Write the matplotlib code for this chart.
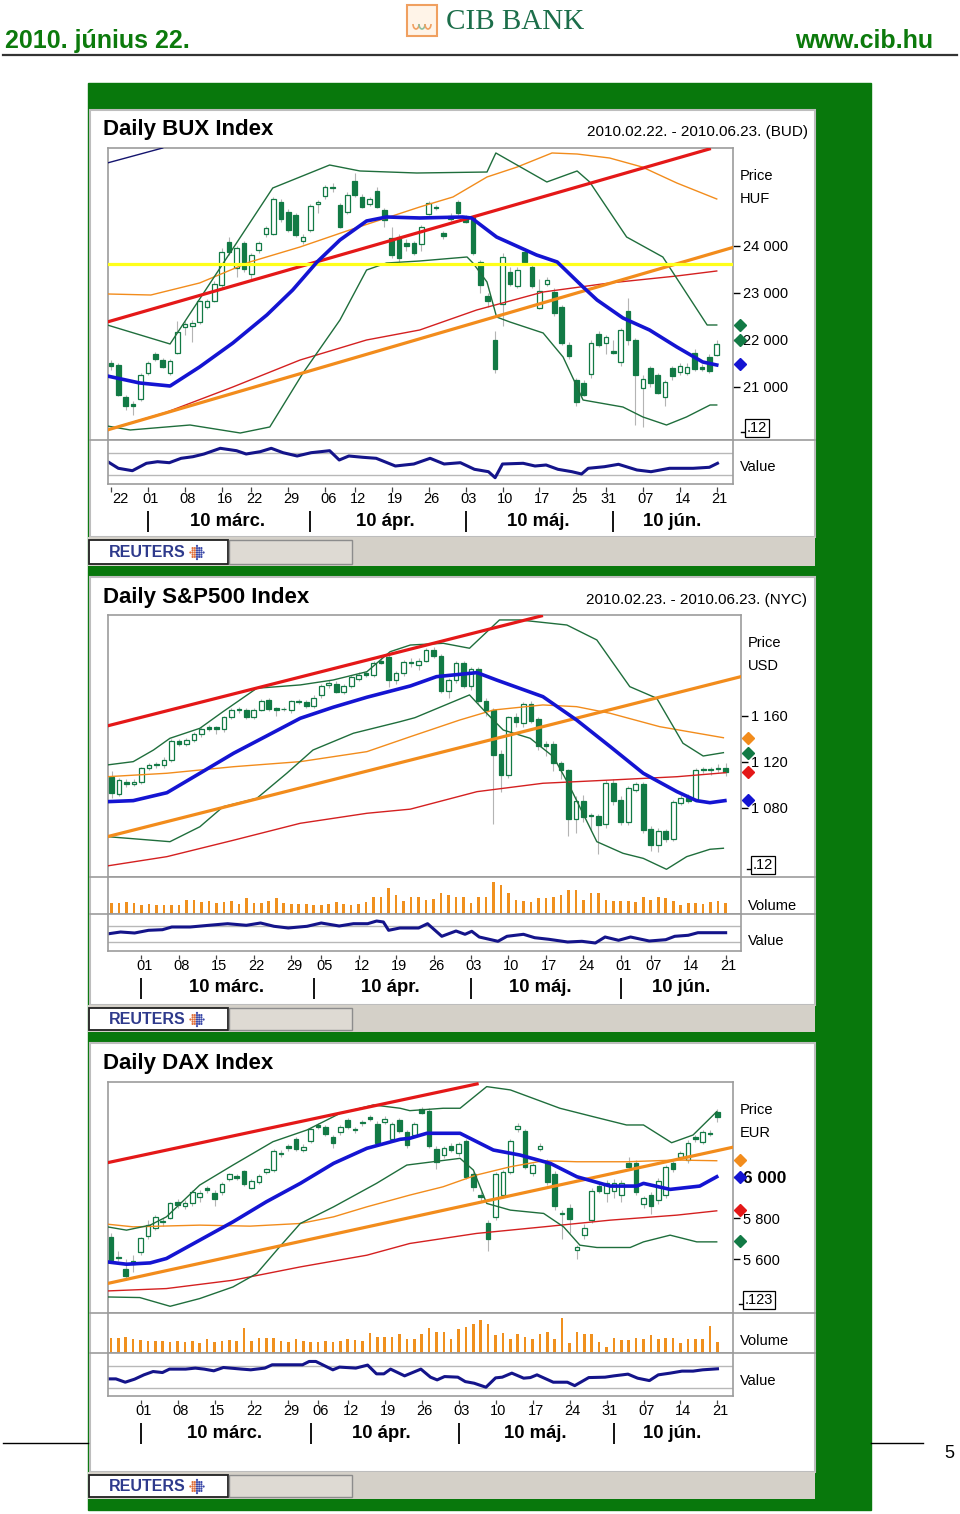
import matplotlib
matplotlib.use("Agg")
import matplotlib.pyplot as plt
from matplotlib.patches import Rectangle, Arc
from matplotlib.transforms import blended_transform_factory as blend
import numpy as np

plt.rcParams['font.family'] = ['Liberation Sans', 'DejaVu Sans']

# ---------------- data ----------------
# BUX (Budapest), 2010.02.22 - 2010.06.21
bux_open = [21520, 21460, 20790, 20640, 20750, 21290, 21700, 21570, 21290, 21720,
            22270, 22300, 22390, 22710, 22840, 23160, 24090, 23530, 24060, 23400,
            23920, 24250, 24260, 24940, 24730, 24660, 24110, 24340, 24890, 25060,
            25260, 24870, 24720, 25390, 25050, 24890, 25180, 24770, 24180, 24200,
            24070, 24060, 24040, 24680, 24840, 24270, 24570, 24930, 24610, 24610,
            23650, 22940, 22000, 22760, 23450, 23140, 23880, 23550, 22690, 23190,
            23030, 22700, 21890, 21150, 21090, 21270, 22130, 21930, 21770, 21530,
            22620, 22000, 20970, 21400, 21260, 20780, 21400, 21310, 21290, 21730,
            21430, 21630, 21680]
bux_close = [21450, 20830, 20600, 20600, 21250, 21520, 21600, 21430, 21550, 22160,
             22350, 22370, 22820, 22820, 23190, 23870, 23870, 23950, 23500, 23810,
             24060, 24380, 24990, 24570, 24340, 24240, 24200, 24850, 24940, 25260,
             25230, 24410, 25090, 25090, 24840, 24990, 24840, 24550, 23810, 23740,
             24000, 23860, 24410, 24910, 24800, 24220, 24640, 24700, 24510, 23860,
             23170, 22830, 21380, 23770, 23190, 23490, 23650, 23140, 23050, 23280,
             22570, 21930, 21660, 20670, 20830, 21940, 21890, 22070, 21730, 22210,
             21990, 21260, 21180, 21080, 20870, 21100, 21230, 21450, 21430, 21380,
             21390, 21330, 21910]
bux_high = [21570, 21500, 20830, 20700, 21300, 21560, 21750, 21620, 21600, 22400,
            22400, 22420, 22850, 22880, 23250, 23950, 24200, 24000, 24100, 23850,
            24100, 24420, 25050, 24990, 24780, 24700, 24250, 24900, 24980, 25300,
            25350, 24920, 25150, 25550, 25100, 25050, 25250, 24800, 24400, 24250,
            24150, 24100, 24450, 24950, 24880, 24320, 24700, 24980, 24650, 24650,
            23700, 23000, 22200, 23850, 23550, 23550, 23950, 23600, 23300, 23350,
            23100, 22750, 21950, 21200, 21150, 21990, 22200, 22100, 22000, 22250,
            22900, 22050, 21250, 21450, 21300, 21150, 21450, 21500, 21500, 21800,
            21480, 21700, 22000]
bux_low = [21360, 20800, 20500, 20400, 20700, 21250, 21550, 21400, 21250, 21700,
           22100, 21950, 22350, 22650, 22800, 23100, 23800, 23350, 23450, 23300,
           23850, 24200, 24230, 24500, 24300, 24200, 24050, 24300, 24700, 24990,
           25150, 24380, 24680, 25050, 24800, 24850, 24800, 24400, 23750, 23650,
           23900, 23800, 23900, 24650, 24760, 24150, 24540, 24660, 24480, 23800,
           23000, 22700, 21300, 22300, 23150, 23100, 23600, 23100, 22650, 23150,
           22500, 21900, 21600, 20600, 20800, 21200, 21850, 21700, 21700, 21450,
           21900, 20200, 20150, 21000, 20850, 20600, 21150, 21250, 21250, 21350,
           21350, 21300, 21650]
bux_ma_x = [-0.5, 3.9, 8.0, 12.0, 16.5, 21.1, 24.6, 27.9, 31.0, 34.6, 37.3, 41.8,
            47.6, 48.8, 52.2, 57.6, 60.4, 63.9, 65.8, 69.3, 72.9, 76.6, 80.1, 82]
bux_ma_y = [21234, 21085, 21021, 21426, 21936, 22532, 23064, 23660, 24128, 24532,
            24617, 24596, 24617, 24596, 24191, 23809, 23660, 23128, 22851, 22468,
            22213, 21851, 21532, 21468]
bux_bbu_x = [-0.5, 8.0, 21.9, 29.6, 33.7, 41.4, 50.9, 52.1, 59.0, 63.1, 64.8, 69.8,
             74.7, 80.7, 82]
bux_bbu_y = [22319, 21915, 25234, 25723, 25596, 25553, 25574, 25979, 25362, 25596,
             25362, 24191, 23766, 22319, 22319]
bux_bbl_x = [-0.5, 2.6, 10.7, 17.5, 21.5, 26.0, 31.0, 34.6, 37.3, 41.8, 48.2, 49.0,
             50.9, 52.2, 54.0, 58.5, 61.2, 63.1, 63.9, 69.3, 72.0, 75.2, 77.9, 81.1, 82]
bux_bbl_y = [20170, 20085, 20191, 20021, 20149, 21298, 22426, 23489, 23638, 23681,
             23766, 23638, 23234, 22489, 22383, 22149, 21638, 21000, 20723, 20574,
             20362, 20191, 20362, 20617, 20617]
bux_ma50_x = [-0.5, 5.4, 12.0, 18.8, 25.6, 32.3, 41.8, 46.3, 50.9, 55.0, 59.7, 63.1,
              67.5, 71.9, 76.6, 82]
bux_ma50_y = [22979, 22957, 23213, 23660, 23979, 24340, 24830, 25043, 25468, 25681,
              25979, 25957, 25872, 25681, 25340, 25000]
bux_ma200_x = [-0.5, 7.6, 16.5, 25.6, 34.6, 41.8, 49.5, 58.5, 67.5, 76.6, 82]
bux_ma200_y = [20085, 20468, 21000, 21574, 22000, 22213, 22638, 23021, 23213, 23362, 23468]
bux_res_x, bux_res_y = [-0.5, 81], [22383, 26064]
bux_sup_x, bux_sup_y = [-0.5, 84.4], [20085, 23979]
bux_old_x, bux_old_y = [-0.5, 7.0], [25766, 26085]
bux_level = 23617
bux_marks = [(22319, '#127a45'), (22000, '#127a45'), (21489, '#1414d2')]
bux_val_x = [-0.3, 1.0, 2.9, 4.8, 6.3, 7.9, 9.5, 11.1, 12.6, 14.8, 17.0, 18.3, 20.2,
             21.7, 23.3, 25.2, 27.1, 29.6, 30.9, 32.2, 34.1, 35.9, 38.5, 41.0, 43.2,
             45.1, 47.3, 49.2, 51.1, 52.0, 53.0, 55.8, 57.4, 58.9, 60.5, 62.4, 63.7,
             64.6, 66.8, 68.7, 71.2, 73.1, 75.6, 78.8, 81.0, 82.1]
bux_val_y = [21.7, 15.7, 13.3, 20.7, 22.3, 21.3, 25.7, 27.3, 30, 35.7, 33.3, 30, 32.3,
             35.7, 31.3, 28, 31.3, 33.3, 24, 28, 26.7, 25.7, 18, 20, 25.7, 20, 21.3,
             14.7, 12.3, 6.3, 20, 20.7, 18, 19, 14.7, 12.3, 10, 15.7, 17.3, 19.7, 14,
             12.3, 15.7, 15.7, 16.7, 20.7]
bux_tick_pos = [0, 5, 10, 15, 19, 24, 29, 33, 38, 43, 48, 53, 58, 63, 67, 72, 77, 82]
bux_tick_lab = ['22', '01', '08', '16', '22', '29', '06', '12', '19', '26', '03', '10',
                '17', '25', '31', '07', '14', '21']
bux_month_sep = [5, 27, 48, 68]
bux_month_pos = [15.8, 37.2, 57.9, 75.9]

# S&P500 (NYC), 2010.02.23 - 2010.06.21
spx_open = [1107, 1092, 1103, 1101, 1103, 1115, 1118, 1117, 1122, 1138, 1136, 1139,
            1144, 1150, 1150, 1149, 1159, 1166, 1165, 1159, 1165, 1174, 1167, 1166.4,
            1165, 1173, 1172, 1169, 1178, 1187, 1188, 1181, 1186, 1192, 1197, 1196,
            1208, 1211, 1191, 1197, 1207, 1204, 1208, 1217, 1212, 1182, 1191, 1206,
            1186, 1201, 1173, 1165, 1127, 1109, 1159, 1154, 1170, 1157, 1136, 1136,
            1119, 1113, 1070, 1086, 1074, 1073, 1066, 1102, 1087, 1068, 1096, 1101,
            1062, 1048, 1060, 1053, 1084, 1089, 1088, 1114, 1114, 1115, 1115]
spx_close = [1093, 1104, 1101, 1103, 1115, 1117, 1117, 1122, 1138, 1136, 1139, 1144,
             1149, 1149, 1149, 1159, 1165, 1165, 1159, 1165, 1173, 1166, 1165, 1165.8,
             1173, 1172, 1169, 1176, 1186, 1189, 1181, 1186, 1194, 1196, 1196, 1206,
             1206.5, 1191, 1197, 1207, 1206, 1208, 1217, 1212, 1182, 1191, 1206, 1186,
             1201, 1173, 1165, 1126, 1109, 1159, 1155, 1170, 1156, 1134, 1134, 1119,
             1113, 1070, 1086, 1072, 1073, 1065, 1102, 1086, 1068, 1097, 1101, 1061,
             1048, 1060, 1053, 1085, 1089, 1086, 1113, 1113, 1113, 1114, 1111]
spx_high = [1112, 1106, 1105, 1105, 1116, 1119, 1120, 1124, 1140, 1140, 1141, 1146,
            1150, 1152, 1151, 1160, 1167, 1168, 1167, 1167, 1175, 1176, 1168, 1168,
            1174, 1175, 1174, 1178, 1188, 1191, 1190, 1188, 1196, 1198, 1199, 1208,
            1213, 1213, 1199, 1209, 1210, 1210, 1219, 1220, 1214, 1193, 1208, 1208,
            1203, 1203, 1176, 1167, 1130, 1160, 1163, 1172, 1173, 1159, 1138, 1138,
            1121, 1114, 1090, 1091, 1076, 1075, 1104, 1105, 1090, 1099, 1103, 1103,
            1064, 1063, 1062, 1087, 1091, 1092, 1115, 1116, 1116, 1118, 1119]
spx_low = [1089, 1090, 1098, 1099, 1101, 1113, 1115, 1115, 1120, 1134, 1134, 1137,
           1142, 1147, 1144, 1146, 1157, 1163, 1157, 1157, 1164, 1164, 1160, 1164,
           1163, 1170, 1167, 1167, 1176, 1184, 1180, 1179, 1184, 1190, 1194, 1194,
           1205, 1185, 1188, 1195, 1203, 1200, 1207, 1210, 1180, 1176, 1189, 1184,
           1183, 1170, 1160, 1066, 1094, 1106, 1150, 1150, 1154, 1130, 1125, 1112,
           1105, 1056, 1058, 1068, 1060, 1040, 1063, 1083, 1065, 1065, 1094, 1058,
           1043, 1042, 1050, 1051, 1083, 1084, 1087, 1110, 1109, 1111, 1108]
spx_volume = [32, 32, 35, 32, 28, 30, 28, 28, 28, 28, 43, 43, 35, 40, 33, 37, 40, 30,
              48, 33, 32, 38, 48, 32, 30, 30, 30, 28, 27, 30, 35, 30, 28, 30, 35, 50,
              52, 78, 58, 40, 50, 52, 42, 45, 62, 57, 52, 52, 32, 52, 52, 95, 87, 62,
              42, 38, 36, 48, 48, 52, 57, 73, 73, 42, 62, 62, 42, 40, 38, 38, 37, 52,
              42, 50, 48, 38, 28, 32, 32, 30, 35, 38, 32]
spx_ma_x = [-0.6, 2.9, 7.4, 11.8, 16.3, 20.7, 25.2, 29.6, 34.1, 39.9, 43.4, 48.8,
            51.4, 57.6, 62.1, 66.6, 71.0, 75.5, 78.1, 79.9, 81.9]
spx_ma_y = [1085.5, 1086.4, 1093.3, 1110.2, 1127.6, 1142.6, 1158, 1167.6, 1176.3,
            1186.1, 1194.2, 1197.7, 1191.3, 1176.8, 1156.5, 1133.3, 1110.2, 1094.2,
            1086.4, 1084.6, 1086.4]
spx_bbu_x = [-0.6, 2.9, 5.6, 7.8, 11.8, 14.9, 19.4, 25.2, 29.6, 34.1, 37.2, 39.9,
             44.3, 47.8, 51.8, 54.5, 60.8, 64.8, 69.2, 72.8, 76.3, 79.0, 81.7]
spx_bbu_y = [1117.4, 1120.3, 1130.4, 1140.6, 1149.3, 1163.8, 1184.1, 1187, 1191.3,
             1198.5, 1215.9, 1221.7, 1223.2, 1218.9, 1243.5, 1243.5, 1239.1, 1226.1,
             1185.5, 1175.4, 1136.3, 1125.2, 1128.1]
spx_bbl_x = [-0.6, 3.8, 7.8, 11.8, 14.9, 19.4, 23.4, 26.9, 32.3, 38.5, 40.5, 47.8,
             50.1, 52.3, 55.9, 59.0, 61.2, 64.8, 68.3, 71.0, 74.1, 76.8, 79.9, 81.7]
spx_bbl_y = [1055.1, 1052.8, 1050.7, 1063.7, 1081.1, 1088.4, 1110.2, 1130.4, 1145,
             1155, 1158.5, 1178.3, 1162.3, 1147.8, 1140.6, 1124.6, 1098.5, 1050.7,
             1040.6, 1036.2, 1026.7, 1037.7, 1044.1, 1045]
spx_ma50_x = [-0.6, 7.4, 16.3, 25.2, 34.1, 39.9, 46.5, 51.0, 57.6, 62.1, 66.6, 73.2, 81.7]
spx_ma50_y = [1107.2, 1110.2, 1115.9, 1120.3, 1129, 1142, 1156.5, 1165.2, 1169.6,
              1168.1, 1162.3, 1150.7, 1141.1]
spx_ma200_x = [-0.6, 7.4, 16.3, 25.2, 34.1, 39.9, 48.8, 57.6, 66.6, 75.5, 82]
spx_ma200_y = [1029.6, 1037.7, 1052, 1066.7, 1075.4, 1079, 1094.2, 1101.5, 1104.3,
               1107.2, 1110.7]
spx_res_x, spx_res_y = [-0.6, 57.4], [1151.3, 1247]
spx_sup_x, spx_sup_y = [-0.6, 84.4], [1055, 1194.8]
spx_marks = [(1141, '#f28c1c'), (1128, '#127a45'), (1111, '#e41818'), (1087, '#1414d2')]
spx_val_x = [-0.34, 1.21, 3.08, 4.94, 6.8, 8.05, 10.5, 13.0, 15.5, 18.0, 19.9, 21.7,
             23.6, 26.1, 28.0, 30.4, 32.3, 34.2, 35.4, 36.3, 37.0, 38.5, 41.0, 42.2,
             44.1, 46.0, 47.2, 48.1, 49.1, 51.6, 52.8, 55.0, 56.5, 58.4, 60.9, 62.8,
             64.6, 65.9, 67.7, 69.3, 71.8, 74.0, 75.2, 77.0, 78.3, 82.0]
spx_val_y = [17.3, 19, 18, 20.7, 21.3, 24, 24, 25.7, 27.3, 25.7, 28, 24.7, 23, 24.7,
             28, 25, 27.3, 27.3, 30, 29, 20.7, 23, 23, 27.3, 14.7, 20, 16.7, 19.7, 14,
             9.7, 14.7, 16.7, 13.3, 11.7, 9, 9.7, 8, 14, 10.7, 14, 10, 11.3, 14.7,
             15.7, 18.3, 18.3]
spx_tick_pos = [4, 9, 14, 19, 24, 28, 33, 38, 43, 48, 53, 58, 63, 68, 72, 77, 82]
spx_tick_lab = ['01', '08', '15', '22', '29', '05', '12', '19', '26', '03', '10', '17',
                '24', '01', '07', '14', '21']
spx_month_sep = [4, 27, 48, 68]
spx_month_pos = [15.3, 37.2, 57.3, 76.0]

# DAX (Xetra), 2010.02.23 - 2010.06.21
dax_open = [5709, 5611, 5550, 5576, 5636, 5714, 5750, 5783, 5803, 5880, 5859, 5872,
            5901, 5945, 5924, 5927, 5989, 6005, 6029, 5948, 5977, 6026, 6034, 6119,
            6151, 6184, 6132, 6177, 6254, 6246, 6194, 6218, 6278, 6234, 6270, 6291,
            6259, 6270, 6184, 6278, 6221, 6205, 6330, 6324, 6135, 6107, 6151, 6115,
            6176, 6013, 5912, 5777, 5807, 5912, 6026, 6233, 6226, 6018, 6135, 6075,
            6015, 5826, 5850, 5644, 5720, 5790, 5956, 5920, 5933, 5915, 6070, 6070,
            5868, 5912, 5888, 5912, 6067, 6096, 6083, 6194, 6172, 6216, 6319]
dax_close = [5595, 5605, 5517, 5592, 5704, 5766, 5807, 5787, 5872, 5863, 5876, 5928,
             5924, 5937, 5893, 5966, 6013, 5997, 5966, 5981, 6005, 6037, 6128, 6112,
             6140, 6135, 6148, 6233, 6246, 6210, 6164, 6242, 6242, 6228, 6262, 6285,
             6167, 6281, 6259, 6226, 6156, 6259, 6314, 6151, 6075, 6140, 6132, 6161,
             6002, 5950, 5901, 5696, 6013, 6026, 6177, 6249, 6050, 6059, 6151, 5977,
             5859, 5820, 5794, 5660, 5753, 5933, 5933, 5972, 5972, 5972, 6047, 5929,
             5896, 5859, 5982, 6047, 6037, 6116, 6168, 6184, 6218, 6210, 6291]
dax_high = [5730, 5640, 5600, 5620, 5710, 5790, 5815, 5800, 5880, 5895, 5890, 5935,
            5935, 5955, 5935, 5975, 6020, 6015, 6035, 5990, 6015, 6045, 6135, 6130,
            6160, 6195, 6160, 6245, 6265, 6255, 6205, 6255, 6290, 6245, 6280, 6300,
            6275, 6295, 6270, 6290, 6230, 6270, 6340, 6335, 6150, 6150, 6165, 6170,
            6185, 6025, 5925, 5790, 6025, 6035, 6185, 6265, 6235, 6070, 6165, 6090,
            6030, 5840, 5870, 5670, 5770, 5945, 5970, 5985, 5990, 5985, 6100, 6085,
            5910, 5925, 5995, 6060, 6080, 6125, 6180, 6205, 6230, 6230, 6330]
dax_low = [5580, 5590, 5500, 5540, 5620, 5700, 5740, 5760, 5795, 5850, 5845, 5860,
           5880, 5920, 5860, 5915, 5980, 5985, 5955, 5940, 5965, 6015, 6025, 6100,
           6125, 6125, 6120, 6165, 6235, 6200, 6140, 6205, 6235, 6215, 6250, 6275,
           6155, 6260, 6175, 6215, 6140, 6195, 6305, 6140, 6040, 6095, 6120, 6105,
           5990, 5930, 5885, 5640, 5790, 5900, 6015, 6220, 6040, 6005, 6125, 5960,
           5840, 5700, 5730, 5600, 5700, 5775, 5920, 5880, 5900, 5880, 6035, 5915,
           5850, 5820, 5870, 5900, 6025, 6085, 6070, 6170, 6160, 6200, 6270]
dax_volume = [47, 47, 50, 42, 39, 37, 37, 37, 35, 37, 35, 37, 32, 42, 34, 37, 39, 37,
              77, 37, 45, 47, 47, 37, 34, 42, 37, 34, 35, 37, 35, 37, 42, 39, 37, 62,
              49, 49, 49, 59, 42, 42, 57, 77, 65, 65, 42, 72, 79, 89, 102, 89, 54, 62,
              42, 59, 49, 42, 59, 65, 42, 107, 32, 65, 59, 59, 35, 17, 47, 39, 39, 47,
              42, 55, 44, 45, 45, 32, 42, 42, 42, 82, 35]
dax_ma_x = [-0.5, 2.1, 5.3, 7.5, 12.0, 16.5, 21.0, 25.6, 30.1, 34.6, 39.1, 40.4, 42.7,
            47.2, 51.7, 55.3, 59.4, 63.0, 67.5, 71.1, 72.0, 75.6, 79.6, 81.9]
dax_ma_y = [5586.8, 5575.6, 5581.9, 5603.4, 5692.7, 5782, 5879.5, 5969.3, 6066.8, 6140,
            6183.9, 6188.8, 6213.2, 6213.2, 6131.7, 6107.3, 6066.8, 6001.5, 5956.1,
            5956.1, 5969.3, 5940, 5956.1, 6001.5]
dax_bbu_x = [-0.5, 2.1, 5.3, 7.5, 12.0, 16.5, 21.9, 26.5, 31.0, 35.5, 39.1, 40.4, 44.9,
             47.2, 50.8, 54.0, 60.7, 65.2, 69.7, 72.0, 75.8, 78.7, 81.9]
dax_bbu_y = [5757.6, 5741.5, 5765.9, 5806.3, 5961, 6058.5, 6172.2, 6229.3, 6310.7,
             6351.2, 6335.1, 6323.4, 6335.1, 6335.1, 6440.5, 6424.4, 6335.1, 6294.1,
             6253.7, 6253.7, 6167.3, 6204.9, 6318.5]
dax_bbl_x = [-0.5, 3.9, 8.0, 12.0, 16.5, 19.7, 22.8, 25.6, 30.1, 35.9, 40.0, 47.2, 49.0,
             50.8, 54.0, 58.5, 61.2, 63.4, 65.7, 70.2, 72.0, 75.6, 79.2, 81.9]
dax_bbl_y = [5416.1, 5413.2, 5370.7, 5408.3, 5465, 5530, 5660, 5774, 5855, 5969.3,
             6058.5, 6091.2, 6034.1, 5871.7, 5839, 5822.9, 5757.6, 5668.3, 5657, 5657,
             5684.4, 5717.1, 5684.4, 5684.4]
dax_ma50_x = [-0.5, 3.0, 12.0, 18.8, 25.6, 30.1, 34.6, 40.4, 44.9, 49.4, 54.0, 58.5,
              63.0, 69.7, 76.5, 81.9]
dax_ma50_y = [5770.7, 5757.6, 5765.9, 5761, 5774, 5806.3, 5855.1, 5912.2, 5952.7,
              6009.8, 6050.2, 6079.5, 6074.6, 6074.6, 6082.9, 6079.5]
dax_ma200_x = [-0.5, 7.5, 16.5, 25.6, 34.6, 40.4, 49.4, 58.5, 67.5, 76.5, 81.9]
dax_ma200_y = [5445.4, 5457, 5497.6, 5562.5, 5619.5, 5676.6, 5725.4, 5757.6, 5790.2,
               5814.6, 5835.6]
dax_res_x, dax_res_y = [-0.5, 49.5], [6069.8, 6453.7]
dax_sup_x, dax_sup_y = [-0.5, 84.4], [5481.5, 6147.8]
dax_marks = [(6083, '#f28c1c'), (6000, '#1414d2'), (5839, '#e41818'), (5688, '#127a45')]
dax_val_x = [-0.28, 0.67, 1.93, 3.19, 4.45, 5.70, 6.96, 7.91, 10.1, 11.4, 12.6, 13.9,
             15.2, 17.7, 18.9, 20.8, 21.8, 25.9, 26.8, 27.7, 30.0, 30.9, 33.1, 34.7,
             35.9, 36.9, 37.8, 39.7, 41.9, 43.2, 44.1, 45.1, 46.9, 47.9, 49.1, 50.7,
             52.0, 52.9, 54.2, 55.8, 56.7, 57.6, 59.8, 61.7, 62.7, 64.6, 66.8, 68.0,
             69.9, 71.2, 72.8, 74.0, 75.6, 77.2, 78.7, 80.0, 82.0]
dax_val_y = [17, 17, 13.7, 16.7, 21, 24.3, 23.3, 26.7, 26.7, 27.7, 26.7, 25, 28.3,
             26.7, 26, 27.7, 31, 31, 34.3, 34.3, 26, 28.7, 27.7, 30.7, 22, 22, 26.7, 20,
             26.7, 18.7, 16, 19.3, 18.7, 14.3, 12.7, 8.7, 18, 18.7, 22.7, 17.7, 18.3,
             21, 13.7, 13.7, 10.3, 18.3, 18.7, 20, 21.7, 17.7, 15.3, 21, 22.7, 24.7,
             24.7, 26, 27]
dax_tick_pos = [4, 9, 14, 19, 24, 28, 32, 37, 42, 47, 52, 57, 62, 67, 72, 77, 82]
dax_tick_lab = ['01', '08', '15', '22', '29', '06', '12', '19', '26', '03', '10', '17',
                '24', '31', '07', '14', '21']
dax_month_sep = [4, 27, 47, 68]
dax_month_pos = [15.3, 36.6, 57.3, 75.9]

month_names = ['10 márc.', '10 ápr.', '10 máj.', '10 jún.']

# ---------------- style ----------------
W, H = 960, 1514
PAGE_GREEN = '#08780c'
CANDLE = '#127a45'
BAND = '#1f6e3c'
BLUE = '#1414d2'
ORANGE = '#f28c1c'
RED = '#e41818'
FRAME = '#9c9c9c'

fig = plt.figure(figsize=(W / 100, H / 100), dpi=100)
bg = fig.add_axes([0, 0, 1, 1])
bg.set_xlim(0, W)
bg.set_ylim(H, 0)
bg.axis('off')


def add_ax(x0, y0, x1, y1):
    return fig.add_axes([x0 / W, 1 - y1 / H, (x1 - x0) / W, (y1 - y0) / H])


def fmt(v):
    return f"{v:,.0f}".replace(",", " ")


# header
bg.text(5, 41, '2010. június 22.', color='#0c7a0c', fontsize=18, fontweight='bold', va='center')
bg.text(933, 41, 'www.cib.hu', color='#0c7a0c', fontsize=18, fontweight='bold', va='center', ha='right')
bg.plot([3, 957], [55, 55], color='#333333', lw=1.6)
bg.add_patch(Rectangle((407, 5), 30, 31, fc='#fff4e8', ec='#f0a060', lw=1.5))
for cx, col in [(416, '#f0a060'), (422, '#8fbfa0'), (428, '#f0a060')]:
    bg.add_patch(Arc((cx, 24), 6, 10, theta1=0, theta2=180, color=col, lw=1.2))
bg.text(446, 22, 'CIB BANK', family=['Liberation Serif', 'DejaVu Serif'], fontsize=21,
        color='#1c6e4a', va='center')

# green page block, footer
bg.add_patch(Rectangle((88, 83), 783, 1427, color=PAGE_GREEN))
bg.plot([3, 88], [1443, 1443], color='black', lw=1)
bg.plot([871, 923], [1443, 1443], color='black', lw=1)
bg.text(949, 1453, '5', fontsize=13, ha='center', va='center')


def panel(top, bottom, bar_bottom, seps):
    bg.add_patch(Rectangle((90, top), 725, bottom - top, fc='white', ec='#bdbdbd', lw=1.5))
    bg.add_patch(Rectangle((88, bottom), 727, bar_bottom - bottom, fc='#d4d0c8', ec='none'))
    bg.add_patch(Rectangle((89, bottom + 3), 139, bar_bottom - bottom - 5, fc='white', ec='#202020', lw=1.3))
    bg.add_patch(Rectangle((229, bottom + 3), 123, bar_bottom - bottom - 5, fc='#dedad3', ec='#8c8c8c', lw=1))
    ym = bottom + (bar_bottom - bottom) / 2 + 1
    bg.text(109, ym, 'REUTERS', fontsize=11.5, fontweight='bold', color='#2e3a8c', va='center')
    # little dotted globe
    gx, gy = np.meshgrid(np.arange(-3, 4) * 2.2, np.arange(-3, 4) * 2.2)
    keep = gx ** 2 + gy ** 2 <= 48
    cols = np.where(gx[keep] < 0, '#e0703a', '#3a48a8')
    bg.scatter(197 + gx[keep], ym + gy[keep], s=2.5, c=cols, lw=0)
    for y in seps:
        bg.plot([90, 815], [y, y], color=FRAME, lw=1.2)


def draw_chart(c):
    ax = add_ax(*c['price_box'])
    xs = np.arange(len(c['open']))
    o = np.array(c['open'], float)
    cl = np.array(c['close'], float)
    ax.vlines(xs, c['low'], c['high'], color='#b4b4b4', lw=0.8, zorder=2)
    up = cl >= o
    bot = np.minimum(o, cl)
    hgt = np.maximum(np.abs(cl - o), 1e-9)
    ax.bar(xs[up], hgt[up], bottom=bot[up], width=0.62, color='white', edgecolor=CANDLE, lw=0.9, zorder=3)
    ax.bar(xs[~up], hgt[~up], bottom=bot[~up], width=0.62, color=CANDLE, edgecolor=CANDLE, lw=0.9, zorder=3)

    ax.plot(c['ma200'][0], c['ma200'][1], color='#d42020', lw=1.0, zorder=4)
    ax.plot(c['ma50'][0], c['ma50'][1], color=ORANGE, lw=1.0, zorder=4)
    ax.plot(c['bbu'][0], c['bbu'][1], color=BAND, lw=1.0, zorder=4)
    ax.plot(c['bbl'][0], c['bbl'][1], color=BAND, lw=1.0, zorder=4)
    ax.plot(c['sup'][0], c['sup'][1], color=ORANGE, lw=2.3, zorder=5)
    ax.plot(c['res'][0], c['res'][1], color=RED, lw=2.3, zorder=5)
    if 'level' in c:
        ax.axhline(c['level'], color='#ffff1a', lw=2.3, zorder=5)
    if 'old' in c:
        ax.plot(c['old'][0], c['old'][1], color='#14146e', lw=1.0, zorder=5)
    ax.plot(c['ma'][0], c['ma'][1], color=BLUE, lw=2.6, zorder=6)

    ax.set_xlim(*c['xlim'])
    ax.set_ylim(*c['ylim'])
    ax.set_xticks([])
    ax.yaxis.tick_right()
    ax.set_yticks(c['yticks'], labels=[fmt(v) for v in c['yticks']])
    ax.tick_params(axis='y', direction='out', length=5, width=1, labelsize=10.5, pad=2.5)
    for lbl in ax.get_yticklabels():
        if lbl.get_text() == c.get('bold_tick'):
            lbl.set_fontweight('bold')
            lbl.set_fontsize(12.5)
    for s in ax.spines.values():
        s.set_color(FRAME)
        s.set_linewidth(1.2)

    trm = blend(bg.transData, ax.transData)
    for val, col in c['marks']:
        ax.plot([c['mark_x']], [val], marker='D', ms=6, color=col, transform=trm, clip_on=False, zorder=7)

    if 'vol_box' in c:
        axv = add_ax(*c['vol_box'])
        axv.bar(np.arange(len(c['volume'])), c['volume'], width=0.35, color='#f0901e')
        axv.set_xlim(*c['xlim'])
        axv.set_ylim(0, c['vol_top'])
        axv.set_xticks([])
        axv.set_yticks([])
        for s in axv.spines.values():
            s.set_color(FRAME)
            s.set_linewidth(1.2)

    axl = add_ax(*c['val_box'])
    for g in c['val_grid']:
        axl.axhline(g, color='#b8b8b8', lw=1)
    axl.plot(c['val'][0], c['val'][1], color='#14148a', lw=2.2)
    axl.set_xlim(*c['xlim'])
    axl.set_ylim(0, c['val_top'])
    axl.set_xticks([])
    axl.set_yticks([])
    for s in axl.spines.values():
        s.set_color(FRAME)
        s.set_linewidth(1.2)

    # date axis below the value pane
    tr = blend(axl.transData, bg.transData)
    t0, t1, ty, my, s0, s1 = c['date_y']
    bg.vlines(c['tick_pos'], t0, t1, color='#444444', lw=0.9, transform=tr)
    for i, (p, lab) in enumerate(zip(c['tick_pos'], c['tick_lab'])):
        shift = c.get('first_shift', 0.4) if i == 0 else 0.4
        bg.text(p + shift, ty, lab, fontsize=10.5, ha='center', va='center', transform=tr)
    bg.vlines(c['month_sep'], s0, s1, color='black', lw=1.3, transform=tr)
    for p, lab in zip(c['month_pos'], month_names):
        bg.text(p, my, lab, fontsize=13.3, fontweight='bold', ha='center', va='center', transform=tr)


def side_text(items):
    for x, y, t in items:
        bg.text(x, y, t, fontsize=10.5, va='center', ha='left')


def box_text(x, y, t):
    bg.plot([x - 6, x - 2], [y + 4, y + 4], color='black', lw=1)
    bg.text(x, y, t, fontsize=10.5, va='center', ha='left',
            bbox=dict(boxstyle='square,pad=0.12', fc='white', ec='black', lw=0.9))


# ---- BUX ----
panel(110, 537, 566, [440])
bg.text(103, 130, 'Daily BUX Index', fontsize=16, fontweight='bold', va='center')
bg.text(808, 132, '2010.02.22. - 2010.06.23. (BUD)', fontsize=11, va='center', ha='right')
side_text([(740, 176, 'Price'), (740, 199, 'HUF'), (740, 467, 'Value')])
box_text(747, 428, '.12')
draw_chart(dict(
    price_box=(108, 148, 733, 440), val_box=(108, 440, 733, 484),
    open=bux_open, close=bux_close, high=bux_high, low=bux_low,
    ma=(bux_ma_x, bux_ma_y), bbu=(bux_bbu_x, bux_bbu_y), bbl=(bux_bbl_x, bux_bbl_y),
    ma50=(bux_ma50_x, bux_ma50_y), ma200=(bux_ma200_x, bux_ma200_y),
    res=(bux_res_x, bux_res_y), sup=(bux_sup_x, bux_sup_y), old=(bux_old_x, bux_old_y),
    level=bux_level, marks=bux_marks, mark_x=740,
    xlim=(-0.4, 84.2), ylim=(19872, 26085), yticks=[21000, 22000, 23000, 24000],
    val=(bux_val_x, bux_val_y), val_top=44, val_grid=[9, 31],
    tick_pos=bux_tick_pos, tick_lab=bux_tick_lab, month_sep=bux_month_sep,
    month_pos=bux_month_pos, date_y=(487, 492, 499, 521, 511, 532), first_shift=1.3))

# ---- S&P500 ----
panel(577, 1005, 1032, [877, 914])
bg.text(103, 597, 'Daily S&P500 Index', fontsize=16, fontweight='bold', va='center')
bg.text(807, 600, '2010.02.23. - 2010.06.23. (NYC)', fontsize=11, va='center', ha='right')
side_text([(748, 643, 'Price'), (748, 666, 'USD'), (748, 906, 'Volume'), (748, 941, 'Value')])
box_text(753, 865, '.12')
draw_chart(dict(
    price_box=(108, 615, 741, 877), vol_box=(108, 877, 741, 914), val_box=(108, 914, 741, 951),
    open=spx_open, close=spx_close, high=spx_high, low=spx_low,
    ma=(spx_ma_x, spx_ma_y), bbu=(spx_bbu_x, spx_bbu_y), bbl=(spx_bbl_x, spx_bbl_y),
    ma50=(spx_ma50_x, spx_ma50_y), ma200=(spx_ma200_x, spx_ma200_y),
    res=(spx_res_x, spx_res_y), sup=(spx_sup_x, spx_sup_y),
    marks=spx_marks, mark_x=748,
    xlim=(-0.47, 84.05), ylim=(1020, 1247.8), yticks=[1080, 1120, 1160],
    volume=spx_volume, vol_top=111,
    val=(spx_val_x, spx_val_y), val_top=37, val_grid=[8.7, 25.3],
    tick_pos=spx_tick_pos, tick_lab=spx_tick_lab, month_sep=spx_month_sep,
    month_pos=spx_month_pos, date_y=(955, 959, 966, 988, 978, 999)))

# ---- DAX ----
panel(1043, 1472, 1499, [1313, 1353])
bg.text(103, 1063, 'Daily DAX Index', fontsize=16, fontweight='bold', va='center')
side_text([(740, 1110, 'Price'), (740, 1133, 'EUR'), (740, 1341, 'Volume'), (740, 1381, 'Value')])
box_text(745, 1300, '.123')
draw_chart(dict(
    price_box=(108, 1082, 733, 1313), vol_box=(108, 1313, 733, 1353), val_box=(108, 1353, 733, 1396),
    open=dax_open, close=dax_close, high=dax_high, low=dax_low,
    ma=(dax_ma_x, dax_ma_y), bbu=(dax_bbu_x, dax_bbu_y), bbl=(dax_bbl_x, dax_bbl_y),
    ma50=(dax_ma50_x, dax_ma50_y), ma200=(dax_ma200_x, dax_ma200_y),
    res=(dax_res_x, dax_res_y), sup=(dax_sup_x, dax_sup_y),
    marks=dax_marks, mark_x=740,
    xlim=(-0.4, 84.1), ylim=(5338, 6463), yticks=[5600, 5800, 6000], bold_tick='6 000',
    volume=dax_volume, vol_top=122,
    val=(dax_val_x, dax_val_y), val_top=42.7, val_grid=[8.3, 29.3],
    tick_pos=dax_tick_pos, tick_lab=dax_tick_lab, month_sep=dax_month_sep,
    month_pos=dax_month_pos, date_y=(1400, 1404, 1411, 1433, 1423, 1444)))

fig.savefig('out.png', dpi=100)
